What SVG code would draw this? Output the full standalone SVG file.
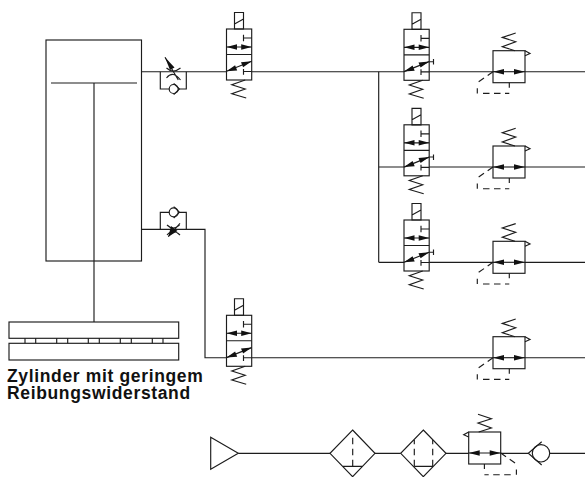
<svg xmlns="http://www.w3.org/2000/svg" width="585" height="477" viewBox="0 0 585 477">
<style>
.s{fill:none;stroke:#1c1c1c;stroke-width:1.15}
.d{fill:none;stroke:#1c1c1c;stroke-width:1.15;stroke-dasharray:6.5 4.5}
.f{fill:#111;stroke:none}
.w{fill:#fff;stroke:#1c1c1c;stroke-width:1.15}
text{font-family:"Liberation Sans",Arial,sans-serif;font-weight:bold;font-size:17.5px;letter-spacing:.65px;fill:#111}
</style>
<defs>
<g id="valve">
<rect class="s" x="0" y="0" width="25.2" height="51"/>
<path class="s" d="M0 25.5H25.2M8 -16.5H17V0H8ZM8 -5L17 -10"/>
<path class="s" d="M17 5.7V12.3M17 9H25.2M0 18H25.2M17 40V45.7M17 42.5H25.2M0 42.3L25.2 32.3"/>
<path class="f" d="M0 18L10.5 15.2V20.8ZM25.2 18L14.7 15.2V20.8ZM0 42.3L8.6 36.3L10.7 41.4ZM25.2 32.3L16.6 38.3L14.5 33.2Z"/>
<path class="s" d="M18.7 51L5.3 55.7L18.7 60L5.3 64.7L19.7 69"/>
</g>
<g id="reg">
<rect class="s" x="0" y="0" width="32" height="32"/>
<path class="s" d="M22 0L9.3 -4L22.7 -9L9.3 -13.3L22.7 -17.7M32 0L37 2.7L32 5"/>
<path class="s" d="M0 21H32"/>
<path class="f" d="M0 21L11 18.3V23.7ZM32 21L21 18.3V23.7Z"/>
<path class="d" d="M0 21L-15.7 32"/>
<path class="s" d="M-15.7 37.5V42.7M16.3 32V37"/>
<path class="d" d="M-10 42.7H16.3"/>
</g>
</defs>
<g id="connectors">
<path class="s" d="M141.5 71.7H226.5M251.7 71.7H404M429.2 71.7H493M525 71.7H585"/>
<path class="s" d="M378.7 71.7V262.3M378.7 167H404M429.2 167H493M525 167H585M378.7 262.3H404M429.2 262.3H493M525 262.3H585"/>
<path class="s" d="M141.5 229.3H205V357.7H226.5M251.7 357.7H493M525 357.7H585"/>
<path class="s" d="M238.3 453.3H330M375 453.3H400.7M446 453.3H468.7M500.7 453.3H528.3M549.7 453.3H585"/>
<path class="s" d="M94 83V322"/>
</g>
<g id="cylinder"><rect class="s" x="46" y="40" width="95.5" height="221"/><path class="s" d="M51 83H137"/></g>
<g id="plates">
<rect class="s" x="9" y="322" width="169.7" height="16.3"/>
<rect class="s" x="9" y="343.3" width="169.7" height="16.7"/>
<path class="s" d="M25 338.3V343.3M35.7 338.3V343.3M56.7 338.3V343.3M67.7 338.3V343.3M88.3 338.3V343.3M99.3 338.3V343.3M120.3 338.3V343.3M131.3 338.3V343.3M152.3 338.3V343.3M163 338.3V343.3"/>
</g>
<g id="throttle-top">
<path class="s" d="M160.3 71.7V89H186.3V71.7"/>
<circle class="w" cx="173.7" cy="89" r="4.5"/>
<path class="s" d="M173.7 83.3L179.4 89L173.7 94.7"/>
<path class="s" d="M165 57.3L178.3 80M166.5 68Q173 74 180.5 68M166.5 78Q173 70 180.5 80"/>
<path class="f" d="M165 57.3L174.5 67.5L170 70Z"/>
</g>
<g id="throttle-bottom">
<path class="s" d="M160.3 229.3V212.3H186.3V229.3"/>
<circle class="w" cx="173.7" cy="212.3" r="4.5"/>
<path class="s" d="M173.7 206.6L179.4 212.3L173.7 218"/>
<path class="s" d="M168.3 236.7L180 223.3M167 225Q173 231 179.5 225M167 235Q173 228 180 235"/>
<path class="f" d="M168.3 236.7L171 226L177.5 231Z"/>
</g>
<use id="valve-1" href="#valve" x="226.5" y="29"/>
<use id="valve-5" href="#valve" x="226.5" y="315.3"/>
<g id="valve-2"><use href="#valve" x="404" y="29.3"/><path class="s" d="M429.2 61.7H433.5M433.5 59V64.4"/></g>
<g id="valve-3"><use href="#valve" x="404" y="124.8"/><path class="s" d="M429.2 157H433.5M433.5 154.5V159.9"/></g>
<g id="valve-4"><use href="#valve" x="404" y="220"/><path class="s" d="M429.2 252.2H433.5M433.5 249.5V254.9"/></g>
<use id="reg-1" href="#reg" x="493" y="50.7"/>
<use id="reg-2" href="#reg" x="493" y="146"/>
<use id="reg-3" href="#reg" x="493" y="241.3"/>
<use id="reg-4" href="#reg" x="493" y="336.7"/>
<use id="reg-5" href="#reg" transform="translate(500.7 432) scale(-1 1)"/>
<g id="source"><path class="s" d="M210.7 437.3V469.3L238.3 453.3Z"/></g>
<g id="filter-1"><path class="s" d="M352.6 430L375 453.3L352.6 476.7L330 453.3ZM343 466.3H362.2"/><path class="d" d="M352.7 466.3V436"/></g>
<g id="filter-2"><path class="s" d="M423.3 430L446 453.3L423.3 476.7L400.7 453.3ZM414.3 466.3H432.7"/><path class="d" d="M414.3 466.3V440M432.7 466.3V440"/></g>
<g id="check"><circle class="s" cx="541" cy="453.3" r="8.7"/><path class="s" d="M541.7 441.8L528.3 453.3L541.7 465"/></g>
<g id="label"><text x="7" y="382">Zylinder mit geringem</text><text x="7" y="399">Reibungswiderstand</text></g>
</svg>
